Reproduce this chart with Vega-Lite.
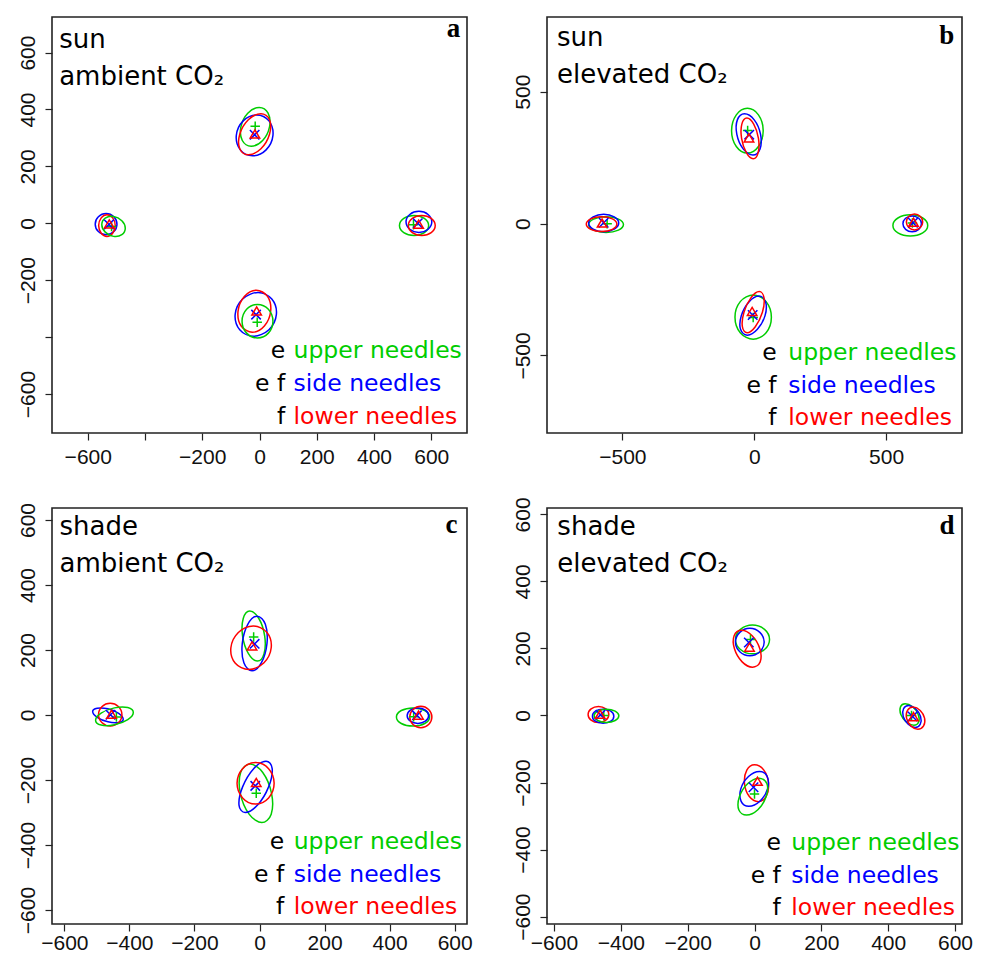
{
"$schema": "https://vega.github.io/schema/vega-lite/v6.json",
"background": "white",
"padding": {"left": 16, "top": 14, "right": 5, "bottom": 0},
"datasets": {
"ell": [
{"p":"a","g":"u","e":"T","x":[35,30,-1,-41,-65,-60,-29,11],"y":[339,387,407,387,339,291,271,291]},
{"p":"a","g":"s","e":"T","x":[47,33,-10,-57,-81,-67,-24,23],"y":[309,360,381,360,309,258,237,258]},
{"p":"a","g":"l","e":"T","x":[35,35,5,-39,-69,-69,-39,5],"y":[313,364,385,364,313,262,241,262]},
{"p":"a","g":"s","e":"B","x":[59,43,-5,-59,-85,-69,-21,33],"y":[-320,-266,-243,-266,-320,-374,-397,-374]},
{"p":"a","g":"l","e":"B","x":[39,28,-11,-53,-75,-64,-25,17],"y":[-309,-257,-235,-257,-309,-361,-383,-361]},
{"p":"a","g":"u","e":"B","x":[47,31,-7,-45,-61,-45,-7,31],"y":[-344,-302,-285,-302,-344,-386,-403,-386]},
{"p":"a","g":"s","e":"L","x":[-498,-509,-536,-563,-574,-563,-536,-509],"y":[-3,23,34,23,-3,-29,-40,-29]},
{"p":"a","g":"l","e":"L","x":[-504,-513,-533,-553,-562,-553,-533,-513],"y":[-8,19,30,19,-8,-35,-46,-35]},
{"p":"a","g":"u","e":"L","x":[-469,-481,-510,-539,-551,-539,-510,-481],"y":[-17,9,24,18,-5,-31,-46,-40]},
{"p":"a","g":"u","e":"R","x":[591,576,540,504,489,504,540,576],"y":[-8,17,27,17,-8,-33,-43,-33]},
{"p":"a","g":"s","e":"R","x":[602,589,557,525,512,525,557,589],"y":[5,31,42,31,5,-21,-32,-21]},
{"p":"a","g":"l","e":"R","x":[614,600,567,534,520,534,567,600],"y":[-8,17,27,17,-8,-33,-43,-33]},
{"p":"b","g":"u","e":"T","x":[34,16,-26,-68,-86,-68,-26,16],"y":[352,412,437,412,352,292,267,292]},
{"p":"b","g":"s","e":"T","x":[24,0,-37,-64,-66,-42,-5,22],"y":[338,393,416,393,338,283,260,283]},
{"p":"b","g":"l","e":"T","x":[16,-2,-28,-47,-48,-30,-4,15],"y":[323,377,400,377,323,269,246,269]},
{"p":"b","g":"u","e":"B","x":[65,45,-4,-53,-73,-53,-4,45],"y":[-355,-296,-271,-296,-355,-414,-439,-414]},
{"p":"b","g":"s","e":"B","x":[41,43,18,-20,-49,-52,-26,12],"y":[-349,-297,-275,-297,-349,-401,-423,-401]},
{"p":"b","g":"l","e":"B","x":[31,37,19,-12,-39,-45,-27,4],"y":[-336,-281,-258,-281,-336,-391,-414,-391]},
{"p":"b","g":"u","e":"L","x":[-496,-515,-562,-609,-628,-609,-562,-515],"y":[-4,17,26,17,-4,-25,-34,-25]},
{"p":"b","g":"s","e":"L","x":[-514,-531,-571,-611,-628,-611,-571,-531],"y":[2,25,35,25,2,-21,-31,-21]},
{"p":"b","g":"l","e":"L","x":[-521,-538,-579,-620,-637,-620,-579,-538],"y":[-2,18,26,18,-2,-22,-30,-22]},
{"p":"b","g":"u","e":"R","x":[658,639,592,545,526,545,592,639],"y":[-7,21,33,21,-7,-35,-47,-35]},
{"p":"b","g":"s","e":"R","x":[634,624,599,574,564,574,599,624],"y":[-1,20,29,20,-1,-22,-31,-22]},
{"p":"b","g":"l","e":"R","x":[639,630,608,586,577,586,608,630],"y":[6,27,36,27,6,-15,-24,-15]},
{"p":"c","g":"u","e":"T","x":[16,-2,-30,-50,-52,-34,-6,14],"y":[243,297,320,297,243,189,166,189]},
{"p":"c","g":"s","e":"T","x":[23,18,-7,-36,-53,-48,-23,6],"y":[220,279,304,279,220,161,136,161]},
{"p":"c","g":"l","e":"T","x":[36,23,-19,-65,-88,-75,-33,13],"y":[207,254,274,254,207,160,140,160]},
{"p":"c","g":"u","e":"B","x":[37,10,-29,-58,-59,-32,7,36],"y":[-241,-177,-151,-177,-241,-305,-331,-305]},
{"p":"c","g":"s","e":"B","x":[28,39,20,-18,-52,-63,-44,-6],"y":[-221,-165,-142,-165,-221,-277,-300,-277]},
{"p":"c","g":"l","e":"B","x":[45,28,-12,-52,-69,-52,-12,28],"y":[-210,-165,-146,-165,-210,-255,-274,-255]},
{"p":"c","g":"s","e":"L","x":[-419,-433,-466,-499,-513,-499,-466,-433],"y":[-13,5,19,21,11,-7,-21,-23]},
{"p":"c","g":"l","e":"L","x":[-423,-434,-459,-484,-495,-484,-459,-434],"y":[1,26,36,26,1,-24,-34,-24]},
{"p":"c","g":"u","e":"L","x":[-388,-405,-446,-487,-504,-487,-446,-405],"y":[8,23,22,6,-16,-31,-30,-14]},
{"p":"c","g":"u","e":"R","x":[523,508,472,436,421,436,472,508],"y":[-6,14,22,14,-6,-26,-34,-26]},
{"p":"c","g":"s","e":"R","x":[520,510,487,464,454,464,487,510],"y":[-2,15,22,15,-2,-19,-26,-19]},
{"p":"c","g":"l","e":"R","x":[530,520,496,472,462,472,496,520],"y":[-6,17,27,17,-6,-29,-39,-29]},
{"p":"d","g":"u","e":"T","x":[45,30,-6,-42,-57,-42,-6,30],"y":[227,257,270,257,227,197,184,197]},
{"p":"d","g":"s","e":"T","x":[29,16,-14,-44,-57,-44,-14,16],"y":[219,248,260,248,219,190,178,190]},
{"p":"d","g":"l","e":"T","x":[16,-7,-39,-61,-60,-37,-6,17],"y":[199,238,254,238,199,160,144,160]},
{"p":"d","g":"l","e":"B","x":[42,28,0,-23,-30,-16,12,35],"y":[-202,-163,-147,-163,-202,-241,-257,-241]},
{"p":"d","g":"s","e":"B","x":[39,38,15,-18,-41,-40,-17,16],"y":[-219,-182,-167,-182,-219,-256,-271,-256]},
{"p":"d","g":"u","e":"B","x":[35,37,14,-20,-45,-47,-24,10],"y":[-242,-203,-187,-203,-242,-281,-297,-281]},
{"p":"d","g":"l","e":"L","x":[-436,-445,-467,-489,-498,-489,-467,-445],"y":[3,20,27,20,3,-14,-21,-14]},
{"p":"d","g":"s","e":"L","x":[-421,-430,-453,-476,-485,-476,-453,-430],"y":[-2,13,19,13,-2,-17,-23,-17]},
{"p":"d","g":"u","e":"L","x":[-406,-417,-443,-469,-480,-469,-443,-417],"y":[-1,13,19,13,-1,-15,-21,-15]},
{"p":"d","g":"u","e":"R","x":[490,473,451,437,438,455,477,491],"y":[3,26,35,26,3,-20,-29,-20]},
{"p":"d","g":"s","e":"R","x":[497,482,461,446,445,460,481,496],"y":[-3,20,30,20,-3,-26,-36,-26]},
{"p":"d","g":"l","e":"R","x":[509,496,475,458,455,468,489,506],"y":[-8,15,25,15,-8,-31,-41,-31]}
],
"pts": [
{"p":"a","g":"u","x":-15,"y":341},{"p":"a","g":"u","x":-8,"y":-348},{"p":"a","g":"u","x":-517,"y":-11},{"p":"a","g":"u","x":538,"y":-5},
{"p":"a","g":"s","x":-17,"y":311},{"p":"a","g":"s","x":-12,"y":-321},{"p":"a","g":"s","x":-526,"y":-4},{"p":"a","g":"s","x":553,"y":0},
{"p":"a","g":"l","x":-16,"y":313},{"p":"a","g":"l","x":-10,"y":-309},{"p":"a","g":"l","x":-525,"y":-3},{"p":"a","g":"l","x":556,"y":-4},
{"p":"b","g":"u","x":-25,"y":353},{"p":"b","g":"u","x":-4,"y":-356},{"p":"b","g":"u","x":-558,"y":-1},{"p":"b","g":"u","x":600,"y":2},
{"p":"b","g":"s","x":-19,"y":337},{"p":"b","g":"s","x":-6,"y":-347},{"p":"b","g":"s","x":-571,"y":3},{"p":"b","g":"s","x":602,"y":3},
{"p":"b","g":"l","x":-20,"y":324},{"p":"b","g":"l","x":-8,"y":-334},{"p":"b","g":"l","x":-577,"y":1},{"p":"b","g":"l","x":604,"y":4},
{"p":"c","g":"u","x":-18,"y":240},{"p":"c","g":"u","x":-10,"y":-241},{"p":"c","g":"u","x":-440,"y":-6},{"p":"c","g":"u","x":474,"y":-5},
{"p":"c","g":"s","x":-15,"y":219},{"p":"c","g":"s","x":-13,"y":-218},{"p":"c","g":"s","x":-458,"y":1},{"p":"c","g":"s","x":484,"y":-1},
{"p":"c","g":"l","x":-23,"y":212},{"p":"c","g":"l","x":-10,"y":-208},{"p":"c","g":"l","x":-455,"y":2},{"p":"c","g":"l","x":489,"y":-1},
{"p":"d","g":"u","x":-12,"y":227},{"p":"d","g":"u","x":0,"y":-234},{"p":"d","g":"u","x":-451,"y":0},{"p":"d","g":"u","x":470,"y":0},
{"p":"d","g":"s","x":-17,"y":218},{"p":"d","g":"s","x":-3,"y":-214},{"p":"d","g":"s","x":-461,"y":2},{"p":"d","g":"s","x":473,"y":-3},
{"p":"d","g":"l","x":-15,"y":203},{"p":"d","g":"l","x":9,"y":-197},{"p":"d","g":"l","x":-462,"y":3},{"p":"d","g":"l","x":476,"y":-4}
],
"txt": [
{"p":"a","k":"h","t":"sun","x":-700,"y":616},
{"p":"a","k":"h","t":"ambient CO₂","x":-700,"y":486},
{"p":"a","k":"n","t":"a","x":701,"y":653},
{"p":"a","k":"b","t":"e","x":90,"y":-473},
{"p":"a","k":"b","t":"e f","x":90,"y":-589},
{"p":"a","k":"b","t":"f","x":90,"y":-705},
{"p":"a","k":"c","g":"u","t":"upper needles","x":119,"y":-473},
{"p":"a","k":"c","g":"s","t":"side needles","x":119,"y":-589},
{"p":"a","k":"c","g":"l","t":"lower needles","x":119,"y":-705},
{"p":"b","k":"h","t":"sun","x":-748,"y":672},
{"p":"b","k":"h","t":"elevated CO₂","x":-748,"y":533},
{"p":"b","k":"n","t":"b","x":759,"y":682},
{"p":"b","k":"b","t":"e","x":85,"y":-518},
{"p":"b","k":"b","t":"e f","x":85,"y":-642},
{"p":"b","k":"b","t":"f","x":85,"y":-765},
{"p":"b","k":"c","g":"u","t":"upper needles","x":129,"y":-518},
{"p":"b","k":"c","g":"s","t":"side needles","x":129,"y":-642},
{"p":"b","k":"c","g":"l","t":"lower needles","x":129,"y":-765},
{"p":"c","k":"h","t":"shade","x":-615,"y":555},
{"p":"c","k":"h","t":"ambient CO₂","x":-615,"y":439},
{"p":"c","k":"n","t":"c","x":609,"y":560},
{"p":"c","k":"b","t":"e","x":76,"y":-413},
{"p":"c","k":"b","t":"e f","x":76,"y":-513},
{"p":"c","k":"b","t":"f","x":76,"y":-613},
{"p":"c","k":"c","g":"u","t":"upper needles","x":105,"y":-413},
{"p":"c","k":"c","g":"s","t":"side needles","x":105,"y":-513},
{"p":"c","k":"c","g":"l","t":"lower needles","x":105,"y":-613},
{"p":"d","k":"h","t":"shade","x":-590,"y":539},
{"p":"d","k":"h","t":"elevated CO₂","x":-590,"y":427},
{"p":"d","k":"n","t":"d","x":599,"y":542},
{"p":"d","k":"b","t":"e","x":79,"y":-401},
{"p":"d","k":"b","t":"e f","x":79,"y":-499},
{"p":"d","k":"b","t":"f","x":79,"y":-595},
{"p":"d","k":"c","g":"u","t":"upper needles","x":110,"y":-401},
{"p":"d","k":"c","g":"s","t":"side needles","x":110,"y":-499},
{"p":"d","k":"c","g":"l","t":"lower needles","x":110,"y":-595}
]
},
"columns": 2,
"spacing": {"row": 75, "column": 80},
"bounds": "flush",
"concat": [
{
"width": 415, "height": 416,
"encoding": {
"x": {"field": "x", "type": "quantitative", "scale": {"domain": [-725, 725], "nice": false, "zero": false}, "axis": {"values": [-600, -400, -200, 0, 200, 400, 600], "labelExpr": "datum.value == -400 ? '' : datum.label"}},
"y": {"field": "y", "type": "quantitative", "scale": {"domain": [-737, 725], "nice": false, "zero": false}, "axis": {"values": [-600, -400, -200, 0, 200, 400, 600], "labelExpr": "datum.value == -400 ? '' : datum.label"}}
},
"layer": [
{"data": {"name": "ell"}, "transform": [{"filter": "datum.p == 'a'"}, {"flatten": ["x", "y"]}], "mark": {"type": "line", "interpolate": "cardinal-closed", "strokeWidth": 1.5}, "encoding": {"color": {"field": "g", "type": "nominal", "scale": {"domain": ["u", "s", "l"], "range": ["#00CD00", "#0000FF", "#FF0000"]}, "legend": null}, "detail": {"field": "e"}, "order": {"value": null}}},
{"data": {"name": "pts"}, "transform": [{"filter": "datum.p == 'a'"}], "mark": {"type": "point", "filled": false, "strokeWidth": 1.5, "size": 90, "opacity": 1}, "encoding": {"color": {"field": "g", "type": "nominal", "scale": {"domain": ["u", "s", "l"], "range": ["#00CD00", "#0000FF", "#FF0000"]}, "legend": null}, "shape": {"field": "g", "type": "nominal", "scale": {"domain": ["u", "s", "l"], "range": ["M-1,0L1,0M0,-1L0,1", "M-1,-1L1,1M-1,1L1,-1", "M0,-0.9L1,0.8L-1,0.8Z"]}, "legend": null}}},
{"data": {"name": "txt"}, "transform": [{"filter": "datum.p == 'a' && datum.k == 'h'"}], "mark": {"type": "text", "align": "left", "baseline": "alphabetic", "fontSize": 26, "font": "DejaVu Sans", "color": "#000"}, "encoding": {"text": {"field": "t"}}},
{"data": {"name": "txt"}, "transform": [{"filter": "datum.p == 'a' && datum.k == 'n'"}], "mark": {"type": "text", "align": "right", "baseline": "alphabetic", "fontSize": 27, "font": "Liberation Serif", "fontWeight": "bold", "color": "#000"}, "encoding": {"text": {"field": "t"}}},
{"data": {"name": "txt"}, "transform": [{"filter": "datum.p == 'a' && datum.k == 'b'"}], "mark": {"type": "text", "align": "right", "baseline": "alphabetic", "fontSize": 23.5, "font": "DejaVu Sans", "color": "#000"}, "encoding": {"text": {"field": "t"}}},
{"data": {"name": "txt"}, "transform": [{"filter": "datum.p == 'a' && datum.k == 'c'"}], "mark": {"type": "text", "align": "left", "baseline": "alphabetic", "fontSize": 23.5, "font": "DejaVu Sans"}, "encoding": {"text": {"field": "t"}, "color": {"field": "g", "type": "nominal", "scale": {"domain": ["u", "s", "l"], "range": ["#00CD00", "#0000FF", "#FF0000"]}, "legend": null}}}
]
},
{
"width": 415, "height": 416,
"encoding": {
"x": {"field": "x", "type": "quantitative", "scale": {"domain": [-786, 788], "nice": false, "zero": false}, "axis": {"values": [-500, 0, 500]}},
"y": {"field": "y", "type": "quantitative", "scale": {"domain": [-794, 783], "nice": false, "zero": false}, "axis": {"values": [-500, 0, 500]}}
},
"layer": [
{"data": {"name": "ell"}, "transform": [{"filter": "datum.p == 'b'"}, {"flatten": ["x", "y"]}], "mark": {"type": "line", "interpolate": "cardinal-closed", "strokeWidth": 1.5}, "encoding": {"color": {"field": "g", "type": "nominal", "scale": {"domain": ["u", "s", "l"], "range": ["#00CD00", "#0000FF", "#FF0000"]}, "legend": null}, "detail": {"field": "e"}, "order": {"value": null}}},
{"data": {"name": "pts"}, "transform": [{"filter": "datum.p == 'b'"}], "mark": {"type": "point", "filled": false, "strokeWidth": 1.5, "size": 90, "opacity": 1}, "encoding": {"color": {"field": "g", "type": "nominal", "scale": {"domain": ["u", "s", "l"], "range": ["#00CD00", "#0000FF", "#FF0000"]}, "legend": null}, "shape": {"field": "g", "type": "nominal", "scale": {"domain": ["u", "s", "l"], "range": ["M-1,0L1,0M0,-1L0,1", "M-1,-1L1,1M-1,1L1,-1", "M0,-0.9L1,0.8L-1,0.8Z"]}, "legend": null}}},
{"data": {"name": "txt"}, "transform": [{"filter": "datum.p == 'b' && datum.k == 'h'"}], "mark": {"type": "text", "align": "left", "baseline": "alphabetic", "fontSize": 26, "font": "DejaVu Sans", "color": "#000"}, "encoding": {"text": {"field": "t"}}},
{"data": {"name": "txt"}, "transform": [{"filter": "datum.p == 'b' && datum.k == 'n'"}], "mark": {"type": "text", "align": "right", "baseline": "alphabetic", "fontSize": 27, "font": "Liberation Serif", "fontWeight": "bold", "color": "#000"}, "encoding": {"text": {"field": "t"}}},
{"data": {"name": "txt"}, "transform": [{"filter": "datum.p == 'b' && datum.k == 'b'"}], "mark": {"type": "text", "align": "right", "baseline": "alphabetic", "fontSize": 23.5, "font": "DejaVu Sans", "color": "#000"}, "encoding": {"text": {"field": "t"}}},
{"data": {"name": "txt"}, "transform": [{"filter": "datum.p == 'b' && datum.k == 'c'"}], "mark": {"type": "text", "align": "left", "baseline": "alphabetic", "fontSize": 23.5, "font": "DejaVu Sans"}, "encoding": {"text": {"field": "t"}, "color": {"field": "g", "type": "nominal", "scale": {"domain": ["u", "s", "l"], "range": ["#00CD00", "#0000FF", "#FF0000"]}, "legend": null}}}
]
},
{
"width": 415, "height": 416,
"encoding": {
"x": {"field": "x", "type": "quantitative", "scale": {"domain": [-638, 638], "nice": false, "zero": false}, "axis": {"values": [-600, -400, -200, 0, 200, 400, 600], "labelPadding": 1}},
"y": {"field": "y", "type": "quantitative", "scale": {"domain": [-643, 637], "nice": false, "zero": false}, "axis": {"values": [-600, -400, -200, 0, 200, 400, 600]}}
},
"layer": [
{"data": {"name": "ell"}, "transform": [{"filter": "datum.p == 'c'"}, {"flatten": ["x", "y"]}], "mark": {"type": "line", "interpolate": "cardinal-closed", "strokeWidth": 1.5}, "encoding": {"color": {"field": "g", "type": "nominal", "scale": {"domain": ["u", "s", "l"], "range": ["#00CD00", "#0000FF", "#FF0000"]}, "legend": null}, "detail": {"field": "e"}, "order": {"value": null}}},
{"data": {"name": "pts"}, "transform": [{"filter": "datum.p == 'c'"}], "mark": {"type": "point", "filled": false, "strokeWidth": 1.5, "size": 90, "opacity": 1}, "encoding": {"color": {"field": "g", "type": "nominal", "scale": {"domain": ["u", "s", "l"], "range": ["#00CD00", "#0000FF", "#FF0000"]}, "legend": null}, "shape": {"field": "g", "type": "nominal", "scale": {"domain": ["u", "s", "l"], "range": ["M-1,0L1,0M0,-1L0,1", "M-1,-1L1,1M-1,1L1,-1", "M0,-0.9L1,0.8L-1,0.8Z"]}, "legend": null}}},
{"data": {"name": "txt"}, "transform": [{"filter": "datum.p == 'c' && datum.k == 'h'"}], "mark": {"type": "text", "align": "left", "baseline": "alphabetic", "fontSize": 26, "font": "DejaVu Sans", "color": "#000"}, "encoding": {"text": {"field": "t"}}},
{"data": {"name": "txt"}, "transform": [{"filter": "datum.p == 'c' && datum.k == 'n'"}], "mark": {"type": "text", "align": "right", "baseline": "alphabetic", "fontSize": 27, "font": "Liberation Serif", "fontWeight": "bold", "color": "#000"}, "encoding": {"text": {"field": "t"}}},
{"data": {"name": "txt"}, "transform": [{"filter": "datum.p == 'c' && datum.k == 'b'"}], "mark": {"type": "text", "align": "right", "baseline": "alphabetic", "fontSize": 23.5, "font": "DejaVu Sans", "color": "#000"}, "encoding": {"text": {"field": "t"}}},
{"data": {"name": "txt"}, "transform": [{"filter": "datum.p == 'c' && datum.k == 'c'"}], "mark": {"type": "text", "align": "left", "baseline": "alphabetic", "fontSize": 23.5, "font": "DejaVu Sans"}, "encoding": {"text": {"field": "t"}, "color": {"field": "g", "type": "nominal", "scale": {"domain": ["u", "s", "l"], "range": ["#00CD00", "#0000FF", "#FF0000"]}, "legend": null}}}
]
},
{
"width": 415, "height": 416,
"encoding": {
"x": {"field": "x", "type": "quantitative", "scale": {"domain": [-621, 621], "nice": false, "zero": false}, "axis": {"values": [-600, -400, -200, 0, 200, 400, 600], "labelPadding": 1}},
"y": {"field": "y", "type": "quantitative", "scale": {"domain": [-622, 619], "nice": false, "zero": false}, "axis": {"values": [-600, -400, -200, 0, 200, 400, 600]}}
},
"layer": [
{"data": {"name": "ell"}, "transform": [{"filter": "datum.p == 'd'"}, {"flatten": ["x", "y"]}], "mark": {"type": "line", "interpolate": "cardinal-closed", "strokeWidth": 1.5}, "encoding": {"color": {"field": "g", "type": "nominal", "scale": {"domain": ["u", "s", "l"], "range": ["#00CD00", "#0000FF", "#FF0000"]}, "legend": null}, "detail": {"field": "e"}, "order": {"value": null}}},
{"data": {"name": "pts"}, "transform": [{"filter": "datum.p == 'd'"}], "mark": {"type": "point", "filled": false, "strokeWidth": 1.5, "size": 90, "opacity": 1}, "encoding": {"color": {"field": "g", "type": "nominal", "scale": {"domain": ["u", "s", "l"], "range": ["#00CD00", "#0000FF", "#FF0000"]}, "legend": null}, "shape": {"field": "g", "type": "nominal", "scale": {"domain": ["u", "s", "l"], "range": ["M-1,0L1,0M0,-1L0,1", "M-1,-1L1,1M-1,1L1,-1", "M0,-0.9L1,0.8L-1,0.8Z"]}, "legend": null}}},
{"data": {"name": "txt"}, "transform": [{"filter": "datum.p == 'd' && datum.k == 'h'"}], "mark": {"type": "text", "align": "left", "baseline": "alphabetic", "fontSize": 26, "font": "DejaVu Sans", "color": "#000"}, "encoding": {"text": {"field": "t"}}},
{"data": {"name": "txt"}, "transform": [{"filter": "datum.p == 'd' && datum.k == 'n'"}], "mark": {"type": "text", "align": "right", "baseline": "alphabetic", "fontSize": 27, "font": "Liberation Serif", "fontWeight": "bold", "color": "#000"}, "encoding": {"text": {"field": "t"}}},
{"data": {"name": "txt"}, "transform": [{"filter": "datum.p == 'd' && datum.k == 'b'"}], "mark": {"type": "text", "align": "right", "baseline": "alphabetic", "fontSize": 23.5, "font": "DejaVu Sans", "color": "#000"}, "encoding": {"text": {"field": "t"}}},
{"data": {"name": "txt"}, "transform": [{"filter": "datum.p == 'd' && datum.k == 'c'"}], "mark": {"type": "text", "align": "left", "baseline": "alphabetic", "fontSize": 23.5, "font": "DejaVu Sans"}, "encoding": {"text": {"field": "t"}, "color": {"field": "g", "type": "nominal", "scale": {"domain": ["u", "s", "l"], "range": ["#00CD00", "#0000FF", "#FF0000"]}, "legend": null}}}
]
}
],
"config": {
"view": {"stroke": "#222", "strokeWidth": 1.6},
"axis": {"grid": false, "domain": false, "title": null, "tickSize": 7, "tickColor": "#222", "tickWidth": 1.2, "labelFont": "Liberation Sans", "labelFontSize": 21, "labelColor": "#111", "labelOverlap": false, "labelFlush": false},
"axisX": {"labelPadding": 6},
"axisY": {"labelAngle": -90, "labelAlign": "center", "labelBaseline": "alphabetic", "labelPadding": 11}
}
}
